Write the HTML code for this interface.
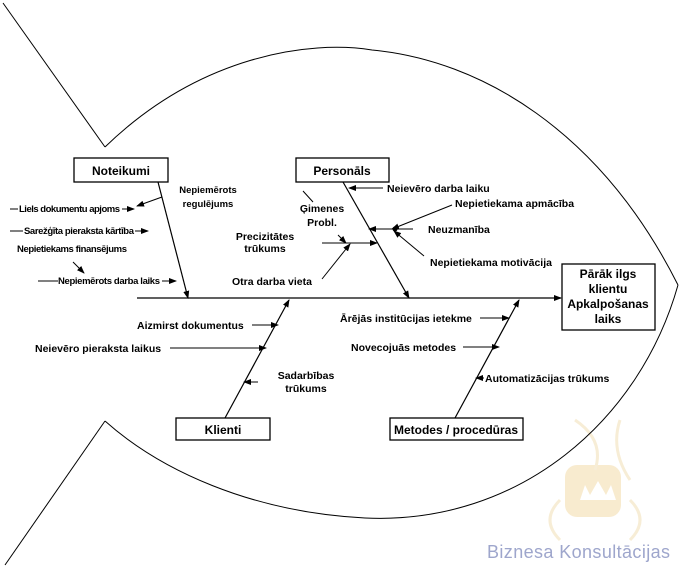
<!DOCTYPE html>
<html><head><meta charset="utf-8"><style>
html,body{margin:0;padding:0;background:#fff;}
svg{display:block;}
text{font-family:"Liberation Sans",Arial,sans-serif;font-weight:bold;fill:#000;}
</style></head><body>
<svg width="682" height="568" viewBox="0 0 682 568" xmlns="http://www.w3.org/2000/svg">
<defs>
<marker id="a" markerWidth="8" markerHeight="8" refX="7" refY="4" orient="auto" markerUnits="userSpaceOnUse">
<path d="M0,1 L8,4 L0,7 z" fill="#000"/></marker>
</defs>
<g opacity="0.5">
<rect x="565" y="465" width="56" height="52" rx="12" fill="#f2d8a0"/>
<path d="M575,420 q30,20 20,50 M620,420 q-10,30 10,60 M560,500 q-20,20 0,40 M630,500 q20,20 0,40" stroke="#f0dcae" stroke-width="3" fill="none"/>
<path d="M580,500 l5,-15 5,10 8,-14 8,14 5,-10 5,15 z" fill="#fff"/>
</g>
<text x="487" y="558" textLength="183" style="font-weight:normal;fill:#9ea6cc;font-size:18px">Biznesa Konsultācijas</text>
<g fill="none" stroke="#000" stroke-width="1">
<path d="M3,3 L105,147"/>
<path d="M105,147 C200,55 310,40 372,50 C480,60 600,130 678,285"/>
<path d="M678,285 C640,420 520,525 365,518 C250,512 160,470 105,421"/>
<path d="M105,421 L5,565"/>
</g>
<g stroke="#000" stroke-width="1.2" fill="none">
<line x1="137" y1="298" x2="561" y2="298" marker-end="url(#a)"/>
<line x1="158" y1="182" x2="188" y2="298" marker-end="url(#a)"/>
<line x1="343" y1="182" x2="409" y2="298" marker-end="url(#a)"/>
<line x1="225" y1="418" x2="289" y2="300" marker-end="url(#a)"/>
<line x1="455" y1="418" x2="519" y2="300" marker-end="url(#a)"/>
</g>
<g fill="#fff" stroke="#000" stroke-width="1.3">
<rect x="74" y="158" width="94" height="24"/>
<rect x="296" y="158" width="93" height="24"/>
<rect x="176" y="418" width="94" height="22"/>
<rect x="390" y="418" width="133" height="22"/>
<rect x="562" y="264" width="93" height="66"/>
</g>
<g font-size="12" text-anchor="middle">
<text x="121" y="175">Noteikumi</text>
<text x="342" y="175">Personāls</text>
<text x="223" y="434">Klienti</text>
<text x="456" y="434">Metodes / procedūras</text>
<text x="608" y="278">Pārāk ilgs</text>
<text x="608" y="293">klientu</text>
<text x="608" y="308">Apkalpošanas</text>
<text x="608" y="323">laiks</text>
</g>
<g stroke="#000" stroke-width="1" fill="none">
<line x1="10" y1="209" x2="18" y2="209"/><line x1="122" y1="209" x2="134" y2="209" marker-end="url(#a)"/>
<line x1="10" y1="231" x2="23" y2="231"/><line x1="135" y1="231" x2="148" y2="231" marker-end="url(#a)"/>
<line x1="73" y1="262" x2="84" y2="273" marker-end="url(#a)"/>
<line x1="38" y1="281" x2="58" y2="281"/><line x1="162" y1="281" x2="176" y2="281" marker-end="url(#a)"/>
<line x1="162" y1="197" x2="137" y2="206" marker-end="url(#a)"/>
<line x1="383" y1="188" x2="349" y2="188" marker-end="url(#a)"/>
<line x1="452" y1="205" x2="392" y2="229" marker-end="url(#a)"/>
<line x1="413" y1="229" x2="369" y2="229" marker-end="url(#a)"/>
<line x1="424" y1="256" x2="394" y2="231" marker-end="url(#a)"/>
<line x1="303" y1="191" x2="313" y2="202"/>
<line x1="338" y1="235" x2="346" y2="243" marker-end="url(#a)"/>
<line x1="322" y1="243" x2="377" y2="243" marker-end="url(#a)"/>
<line x1="322" y1="279" x2="350" y2="244" marker-end="url(#a)"/>
<line x1="252" y1="325" x2="278" y2="325" marker-end="url(#a)"/>
<line x1="170" y1="348" x2="266" y2="348" marker-end="url(#a)"/>
<line x1="258" y1="382" x2="244" y2="382" marker-end="url(#a)"/>
<line x1="480" y1="318" x2="509" y2="318" marker-end="url(#a)"/>
<line x1="463" y1="347" x2="499" y2="347" marker-end="url(#a)"/>
<line x1="484" y1="378" x2="476" y2="378" marker-end="url(#a)"/>
</g>
<circle cx="395" cy="229" r="2.5" fill="#000"/>
<g font-size="9.5">
<text x="19" y="212" textLength="101">Liels dokumentu apjoms</text>
<text x="24" y="234" textLength="110">Sarežģīta pieraksta kārtība</text>
<text x="17" y="252" textLength="110">Nepietiekams finansējums</text>
<text x="58" y="284" textLength="102">Nepiemērots darba laiks</text>
<text x="208" y="193" text-anchor="middle">Nepiemērots</text>
<text x="208" y="207" text-anchor="middle">regulējums</text>
</g>
<g font-size="10.5">
<text x="387" y="192">Neievēro darba laiku</text>
<text x="455" y="207">Nepietiekama apmācība</text>
<text x="428" y="233">Neuzmanība</text>
<text x="430" y="266">Nepietiekama motivācija</text>
<text x="322" y="212" text-anchor="middle">Ģimenes</text>
<text x="322" y="226" text-anchor="middle">Probl.</text>
<text x="265" y="240" text-anchor="middle">Precizitātes</text>
<text x="265" y="252" text-anchor="middle">trūkums</text>
<text x="232" y="285">Otra darba vieta</text>
<text x="137" y="329">Aizmirst dokumentus</text>
<text x="35" y="352">Neievēro pieraksta laikus</text>
<text x="306" y="379" text-anchor="middle">Sadarbības</text>
<text x="306" y="392" text-anchor="middle">trūkums</text>
<text x="340" y="322">Ārējās institūcijas ietekme</text>
<text x="351" y="351">Novecojuās metodes</text>
<text x="485" y="382">Automatizācijas trūkums</text>
</g>
</svg>
</body></html>
